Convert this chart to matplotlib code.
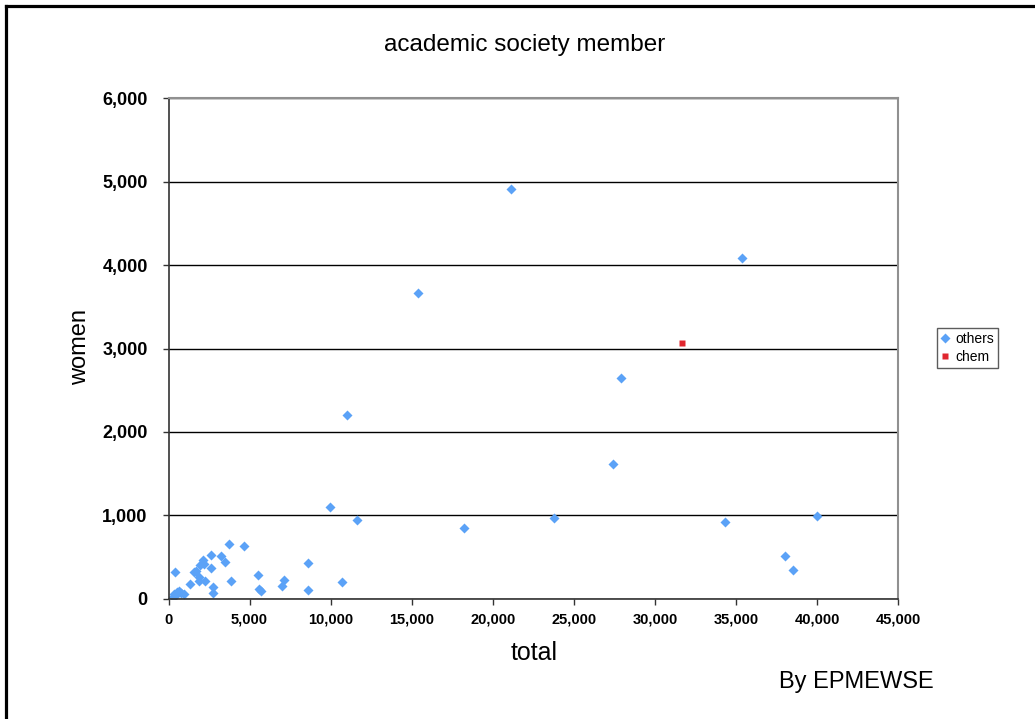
import matplotlib
matplotlib.use("Agg")
import matplotlib.pyplot as plt
from matplotlib.lines import Line2D
from matplotlib.ticker import FuncFormatter, MultipleLocator

plt.rcParams['font.family'] = ['Liberation Sans', 'DejaVu Sans']

# academic societies: total members vs women members
others_total = [265, 370, 430, 535, 634, 780, 942, 388, 1312, 1601, 1704,
                1909, 1909, 1970, 2137, 2217, 2260, 2648, 2648, 2771, 2771,
                3221, 3491, 3756, 3879, 4637, 5500, 5603, 5684, 7000, 7100,
                8600, 8620, 9950, 10700, 11000, 11600, 15400, 18200, 21100,
                23750, 27400, 27900, 34350, 35400, 38000, 38500, 40000]
others_women = [24, 56, 32, 80, 96, 64, 56, 324, 176, 324, 336,
                264, 208, 404, 464, 416, 212, 528, 368, 140, 64,
                516, 436, 652, 212, 628, 288, 112, 88, 152, 224,
                425, 100, 1100, 200, 2205, 945, 3665, 850, 4910,
                965, 1620, 2650, 920, 4080, 510, 345, 990]
chem_total = [31650]
chem_women = [3060]

W, H = 1035, 719
fig = plt.figure(figsize=(W / 100, H / 100), dpi=100)
ax = fig.add_axes([168.5 / W, 1 - 598.7 / H, (898 - 168.5) / W, (598.7 - 98.3) / H])

blue = '#5ba2f7'
red = '#e0262e'
ax.plot(others_total, others_women, 'D', color=blue, ms=4.9, mec='none', label='others')
ax.plot(chem_total, chem_women, 's', color=red, ms=4.8, mec='none', label='chem')

ax.set_xlim(0, 45000)
ax.set_ylim(0, 6000)
ax.xaxis.set_major_locator(MultipleLocator(5000))
ax.yaxis.set_major_locator(MultipleLocator(1000))
fmt = FuncFormatter(lambda v, p: f"{int(v):,}")
ax.xaxis.set_major_formatter(fmt)
ax.yaxis.set_major_formatter(fmt)
ax.grid(axis='y', color='black', lw=1)
ax.set_axisbelow(True)

for s in ['left', 'bottom']:
    ax.spines[s].set_color('#333333')
    ax.spines[s].set_linewidth(1.2)
for s in ['top', 'right']:
    ax.spines[s].set_color('#909090')
    ax.spines[s].set_linewidth(1.5)

ax.tick_params(direction='out', length=4, width=1, color='#333333')
ax.tick_params(axis='x', labelsize=10.5, pad=6)
ax.tick_params(axis='y', labelsize=13, pad=11)
for lab in ax.get_xticklabels() + ax.get_yticklabels():
    lab.set_fontweight('bold')

fig.text(525 / W, 1 - 45 / H, 'academic society member', fontsize=17.5,
         ha='center', va='center')
fig.text(534 / W, 1 - 653 / H, 'total', fontsize=18, ha='center', va='center')
fig.text(80 / W, 1 - 347 / H, 'women', fontsize=17, ha='center', va='center',
         rotation=90)
fig.text(779 / W, 1 - 682 / H, 'By EPMEWSE', fontsize=17, ha='left', va='center')

leg = ax.legend(loc='center left', bbox_to_anchor=(937 / W, 1 - 348 / H),
                bbox_transform=fig.transFigure, frameon=True, fancybox=False,
                fontsize=10, handlelength=0.6, handletextpad=0.4,
                borderpad=0.3, labelspacing=0.3, borderaxespad=0)
leg.get_frame().set_edgecolor('#333333')
leg.get_frame().set_linewidth(1)

# outer frame (top and left edges)
fig.add_artist(Line2D([5.5 / W, 5.5 / W], [0, 1 - 5.5 / H], transform=fig.transFigure,
                      color='black', lw=2.3))
fig.add_artist(Line2D([5.5 / W, 1], [1 - 5.5 / H, 1 - 5.5 / H], transform=fig.transFigure,
                      color='black', lw=2.3))

fig.savefig('out.png', dpi=100)
